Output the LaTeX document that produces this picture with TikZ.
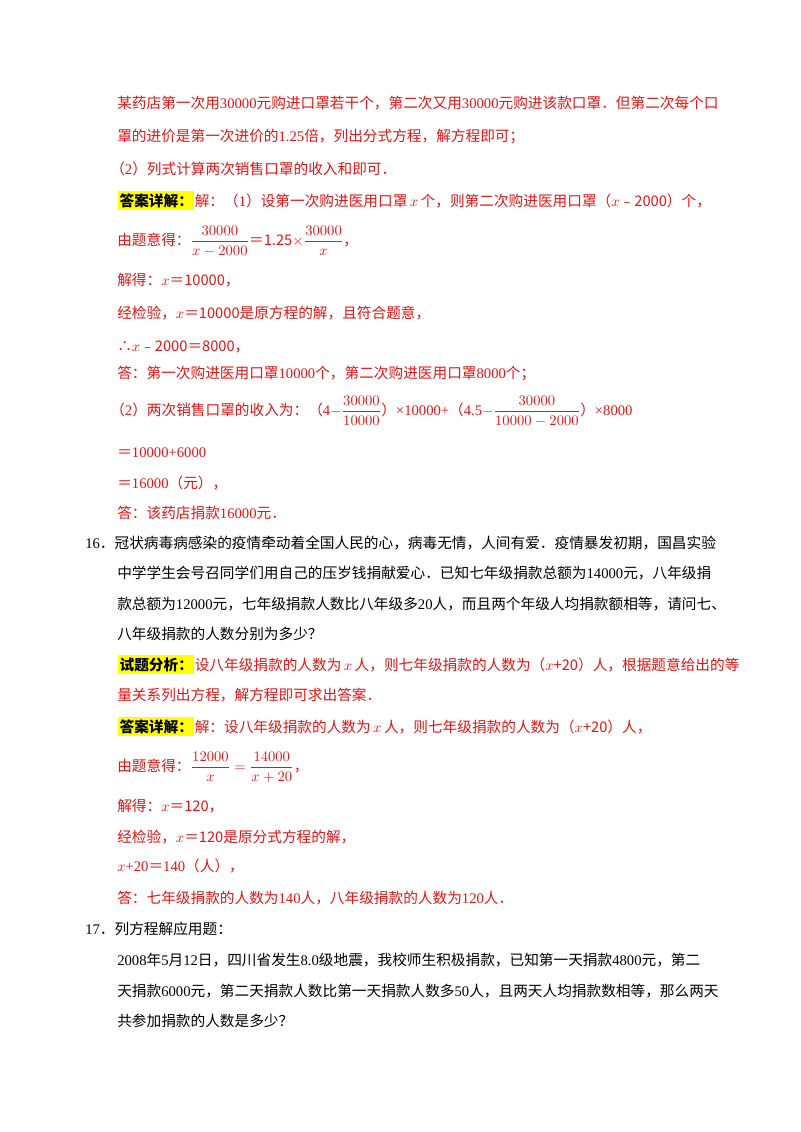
\documentclass[tikz,border=0pt]{standalone}
\usepackage{amsmath}
\usepackage{fontspec}
\setmainfont{Liberation Serif}
\newfontfamily\cjk{Noto Sans CJK SC}
\newfontfamily\lat{Liberation Serif}
\newcount\cc
\newcommand{\setcls}[2]{\cc=#1\relax\loop\XeTeXcharclass\cc=1\relax\ifnum\cc<#2\relax\advance\cc by 1\relax\repeat}
\setcls{"4E00}{"9FFF}
\setcls{"3000}{"303F}
\setcls{"FF00}{"FFEF}
\setcls{"FE30}{"FE6F}
\XeTeXcharclass"2234=1
\XeTeXinterchartokenstate=1
\XeTeXinterchartoks 0 1 = {\cjk}
\XeTeXinterchartoks 4095 1 = {\cjk}
\XeTeXinterchartoks 1 0 = {\lat}
\definecolor{ansred}{RGB}{232,20,20}
\definecolor{hl}{RGB}{255,255,0}
\newcommand{\eqq}{{\cjk ＝}}
\newcommand{\mns}{{\cjk ﹣}}
\begin{document}
\begin{tikzpicture}[x=0.75pt,y=-0.75pt,
  ln/.style={anchor=base west,inner sep=0pt,font=\fontsize{11}{14}\selectfont},
  rd/.style={ln,text=ansred},
  bk/.style={ln,text=black},
  tag/.style={ln,fill=hl,inner xsep=1pt,inner ysep=2pt,font=\fontsize{11}{14}\selectfont\bfseries}]
\useasboundingbox[fill=white] (0,0) rectangle (800,1132);
\node[rd] (l1) at (117,108) {某药店第一次用30000元购进口罩若干个，第二次又用30000元购进该款口罩．但第二次每个口};
\node[rd] (l2) at (117,141) {罩的进价是第一次进价的1.25倍，列出分式方程，解方程即可；};
\node[rd] (l3) at (110,174) {（2）列式计算两次销售口罩的收入和即可．};
\node[tag] (t1) at (118,206) {答案详解：};
\node[rd,anchor=base west] (l4) at (t1.base east) {解：（1）设第一次购进医用口罩\,$x$\,个，则第二次购进医用口罩（$x$\mns2000）个，};
\node[rd] (l5) at (117,245) {由题意得：$\dfrac{30000}{x-2000}$\eqq1.25$\times\dfrac{30000}{x}$，};
\node[rd] (l6) at (117,285) {解得：$x$\eqq10000，};
\node[rd] (l7) at (117,318) {经检验，$x$\eqq10000是原方程的解，且符合题意，};
\node[rd] (l8) at (117,351) {∴$x$\mns2000\eqq8000，};
\node[rd] (l9) at (117,378) {答：第一次购进医用口罩10000个，第二次购进医用口罩8000个；};
\node[rd] (l10) at (110,415) {（2）两次销售口罩的收入为：（4$-\dfrac{30000}{10000}$）×10000+（4.5$-\dfrac{30000}{10000-2000}$）×8000};
\node[rd] (l11) at (117,457) {\eqq10000+6000};
\node[rd] (l12) at (117,488) {\eqq16000（元），};
\node[rd] (l13) at (117,518) {答：该药店捐款16000元．};
\node[bk] (q1) at (85,548) {16．冠状病毒病感染的疫情牵动着全国人民的心，病毒无情，人间有爱．疫情暴发初期，国昌实验};
\node[bk] (q2) at (117,578) {中学学生会号召同学们用自己的压岁钱捐献爱心．已知七年级捐款总额为14000元，八年级捐};
\node[bk] (q3) at (117,609) {款总额为12000元，七年级捐款人数比八年级多20人，而且两个年级人均捐款额相等，请问七、};
\node[bk] (q4) at (117,639) {八年级捐款的人数分别为多少？};
\node[tag] (t2) at (118,670) {试题分析：};
\node[rd,anchor=base west] (a1) at (t2.base east) {设八年级捐款的人数为\,$x$\,人，则七年级捐款的人数为（$x$+20）人，根据题意给出的等};
\node[rd] (a2) at (117,700) {量关系列出方程，解方程即可求出答案．};
\node[tag] (t3) at (118,732) {答案详解：};
\node[rd,anchor=base west] (a3) at (t3.base east) {解：设八年级捐款的人数为\,$x$\,人，则七年级捐款的人数为（$x$+20）人，};
\node[rd] (a4) at (117,771) {由题意得：$\dfrac{12000}{x}=\dfrac{14000}{x+20}$，};
\node[rd] (a5) at (117,811) {解得：$x$\eqq120，};
\node[rd] (a6) at (117,842) {经检验，$x$\eqq120是原分式方程的解，};
\node[rd] (a7) at (117,871) {$x$+20\eqq140（人），};
\node[rd] (a8) at (117,903) {答：七年级捐款的人数为140人，八年级捐款的人数为120人．};
\node[bk] (p1) at (85,934) {17．列方程解应用题：};
\node[bk] (p2) at (117,965) {2008年5月12日，四川省发生8.0级地震，我校师生积极捐款，已知第一天捐款4800元，第二};
\node[bk] (p3) at (117,996) {天捐款6000元，第二天捐款人数比第一天捐款人数多50人，且两天人均捐款数相等，那么两天};
\node[bk] (p4) at (117,1026) {共参加捐款的人数是多少？};
\end{tikzpicture}
\end{document}
